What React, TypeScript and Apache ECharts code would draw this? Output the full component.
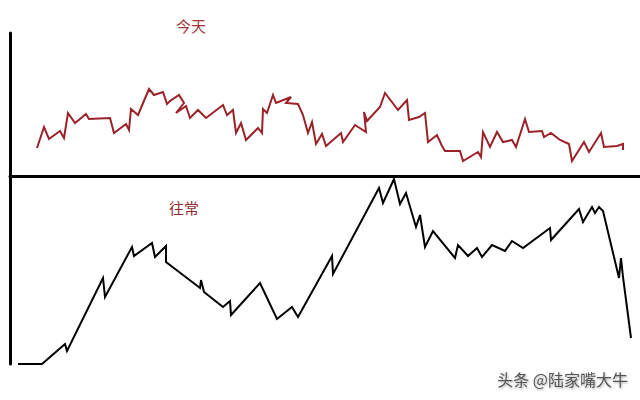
import React, { useEffect, useRef } from "react";
import * as echarts from "echarts";

// 今天 (today): [time, value] pairs
const todayT = [27, 34, 39, 50, 54, 58, 65, 76, 79, 100, 104, 116, 119, 121, 128, 139, 144, 153, 157, 160, 169, 174, 166, 176, 180, 188, 196, 213, 217, 223, 226, 231, 236, 248, 252, 253, 257, 263, 266, 281, 276, 288, 293, 298, 302, 306, 312, 316, 331, 333, 345, 356, 354, 357, 370, 375, 388, 397, 399, 409, 415, 418, 427, 432, 435, 450, 453, 468, 471, 473, 480, 487, 493, 502, 506, 515, 519, 532, 534, 541, 550, 559, 562, 574, 579, 591, 594, 607, 613, 613];
const todayV = [28, 49, 37, 45, 38, 63, 53, 62, 57, 58, 43, 52, 46, 67, 61, 87, 81, 84, 72, 75, 81, 73, 63, 70, 58, 66, 58, 71, 61, 66, 43, 53, 36, 48, 43, 67, 63, 81, 73, 79, 73, 72, 61, 43, 54, 32, 42, 30, 43, 34, 51, 44, 64, 55, 69, 83, 66, 76, 56, 59, 63, 34, 41, 30, 25, 25, 15, 24, 19, 44, 29, 44, 34, 36, 29, 57, 44, 45, 39, 43, 36, 32, 15, 34, 24, 43, 29, 30, 32, 26];

// 往常 (usual): [time, value] pairs
const usualT = [8, 32, 55, 57, 93, 95, 122, 124, 142, 145, 156, 156, 190, 191, 194, 213, 220, 221, 250, 267, 282, 288, 322, 323, 369, 373, 384, 390, 396, 406, 410, 415, 423, 445, 448, 458, 467, 472, 482, 495, 502, 513, 540, 541, 569, 573, 582, 585, 589, 593, 609, 611, 613, 621];
const usualV = [0, 0, 20, 13, 86, 67, 117, 108, 121, 107, 118, 102, 76, 84, 72, 57, 63, 49, 81, 45, 57, 47, 108, 90, 176, 161, 185, 160, 171, 137, 149, 117, 133, 106, 119, 108, 116, 107, 119, 113, 123, 116, 136, 124, 155, 142, 157, 151, 157, 153, 86, 106, 87, 26];

const titles = ["今天", "往常"];
const watermark = "头条 @陆家嘴大牛";

export default function App() {
  const ref = useRef<HTMLDivElement>(null);
  useEffect(() => {
    if (!ref.current) return;
    const chart = echarts.init(ref.current, null, { renderer: "svg" });
    const axisLine = { show: true, onZero: false, lineStyle: { color: "#000", width: 3 } };
    const hidden = { show: false };
    chart.setOption({
      animation: false,
      backgroundColor: "#fff",
      title: [
        {
          text: titles[0], left: 171, top: 13,
          textStyle: { color: "#a3383a", fontSize: 15, fontWeight: "normal", fontFamily: "Noto Sans CJK SC" },
        },
        {
          text: titles[1], left: 164, top: 195,
          textStyle: { color: "#8f2e30", fontSize: 15, fontWeight: "normal", fontFamily: "Noto Sans CJK SC" },
        },
      ],
      graphic: [
        {
          type: "text", right: 12, top: 371,
          style: {
            text: watermark, fill: "#555", fontSize: 16, fontFamily: "Noto Sans CJK SC",
            textShadowColor: "rgba(0,0,0,0.35)", textShadowBlur: 2, textShadowOffsetX: 1, textShadowOffsetY: 1,
          },
        },
      ],
      grid: [
        { left: 10, right: 0, top: 33, height: 143 },
        { left: 10, right: 0, top: 176, height: 188 },
      ],
      xAxis: [
        { type: "value", gridIndex: 0, min: 0, max: 630, axisLine, axisTick: hidden, axisLabel: hidden, splitLine: hidden },
        { type: "value", gridIndex: 1, min: 0, max: 630, axisLine: hidden, axisTick: hidden, axisLabel: hidden, splitLine: hidden },
      ],
      yAxis: [
        { type: "value", gridIndex: 0, min: 0, max: 143, axisLine, axisTick: hidden, axisLabel: hidden, splitLine: hidden },
        { type: "value", gridIndex: 1, min: 0, max: 188, axisLine: { ...axisLine }, axisTick: hidden, axisLabel: hidden, splitLine: hidden },
      ],
      series: [
        {
          type: "line", xAxisIndex: 0, yAxisIndex: 0, showSymbol: false, silent: true,
          data: todayT.map((t, i) => [t, todayV[i]]),
          lineStyle: { color: "#9a2228", width: 2, join: "miter" },
        },
        {
          type: "line", xAxisIndex: 1, yAxisIndex: 1, showSymbol: false, silent: true,
          data: usualT.map((t, i) => [t, usualV[i]]),
          lineStyle: { color: "#000", width: 2, join: "miter" },
        },
      ],
    });
    return () => chart.dispose();
  }, []);
  return <div ref={ref} style={{ position: "absolute", left: 0, top: 0, width: 640, height: 400 }} />;
}
